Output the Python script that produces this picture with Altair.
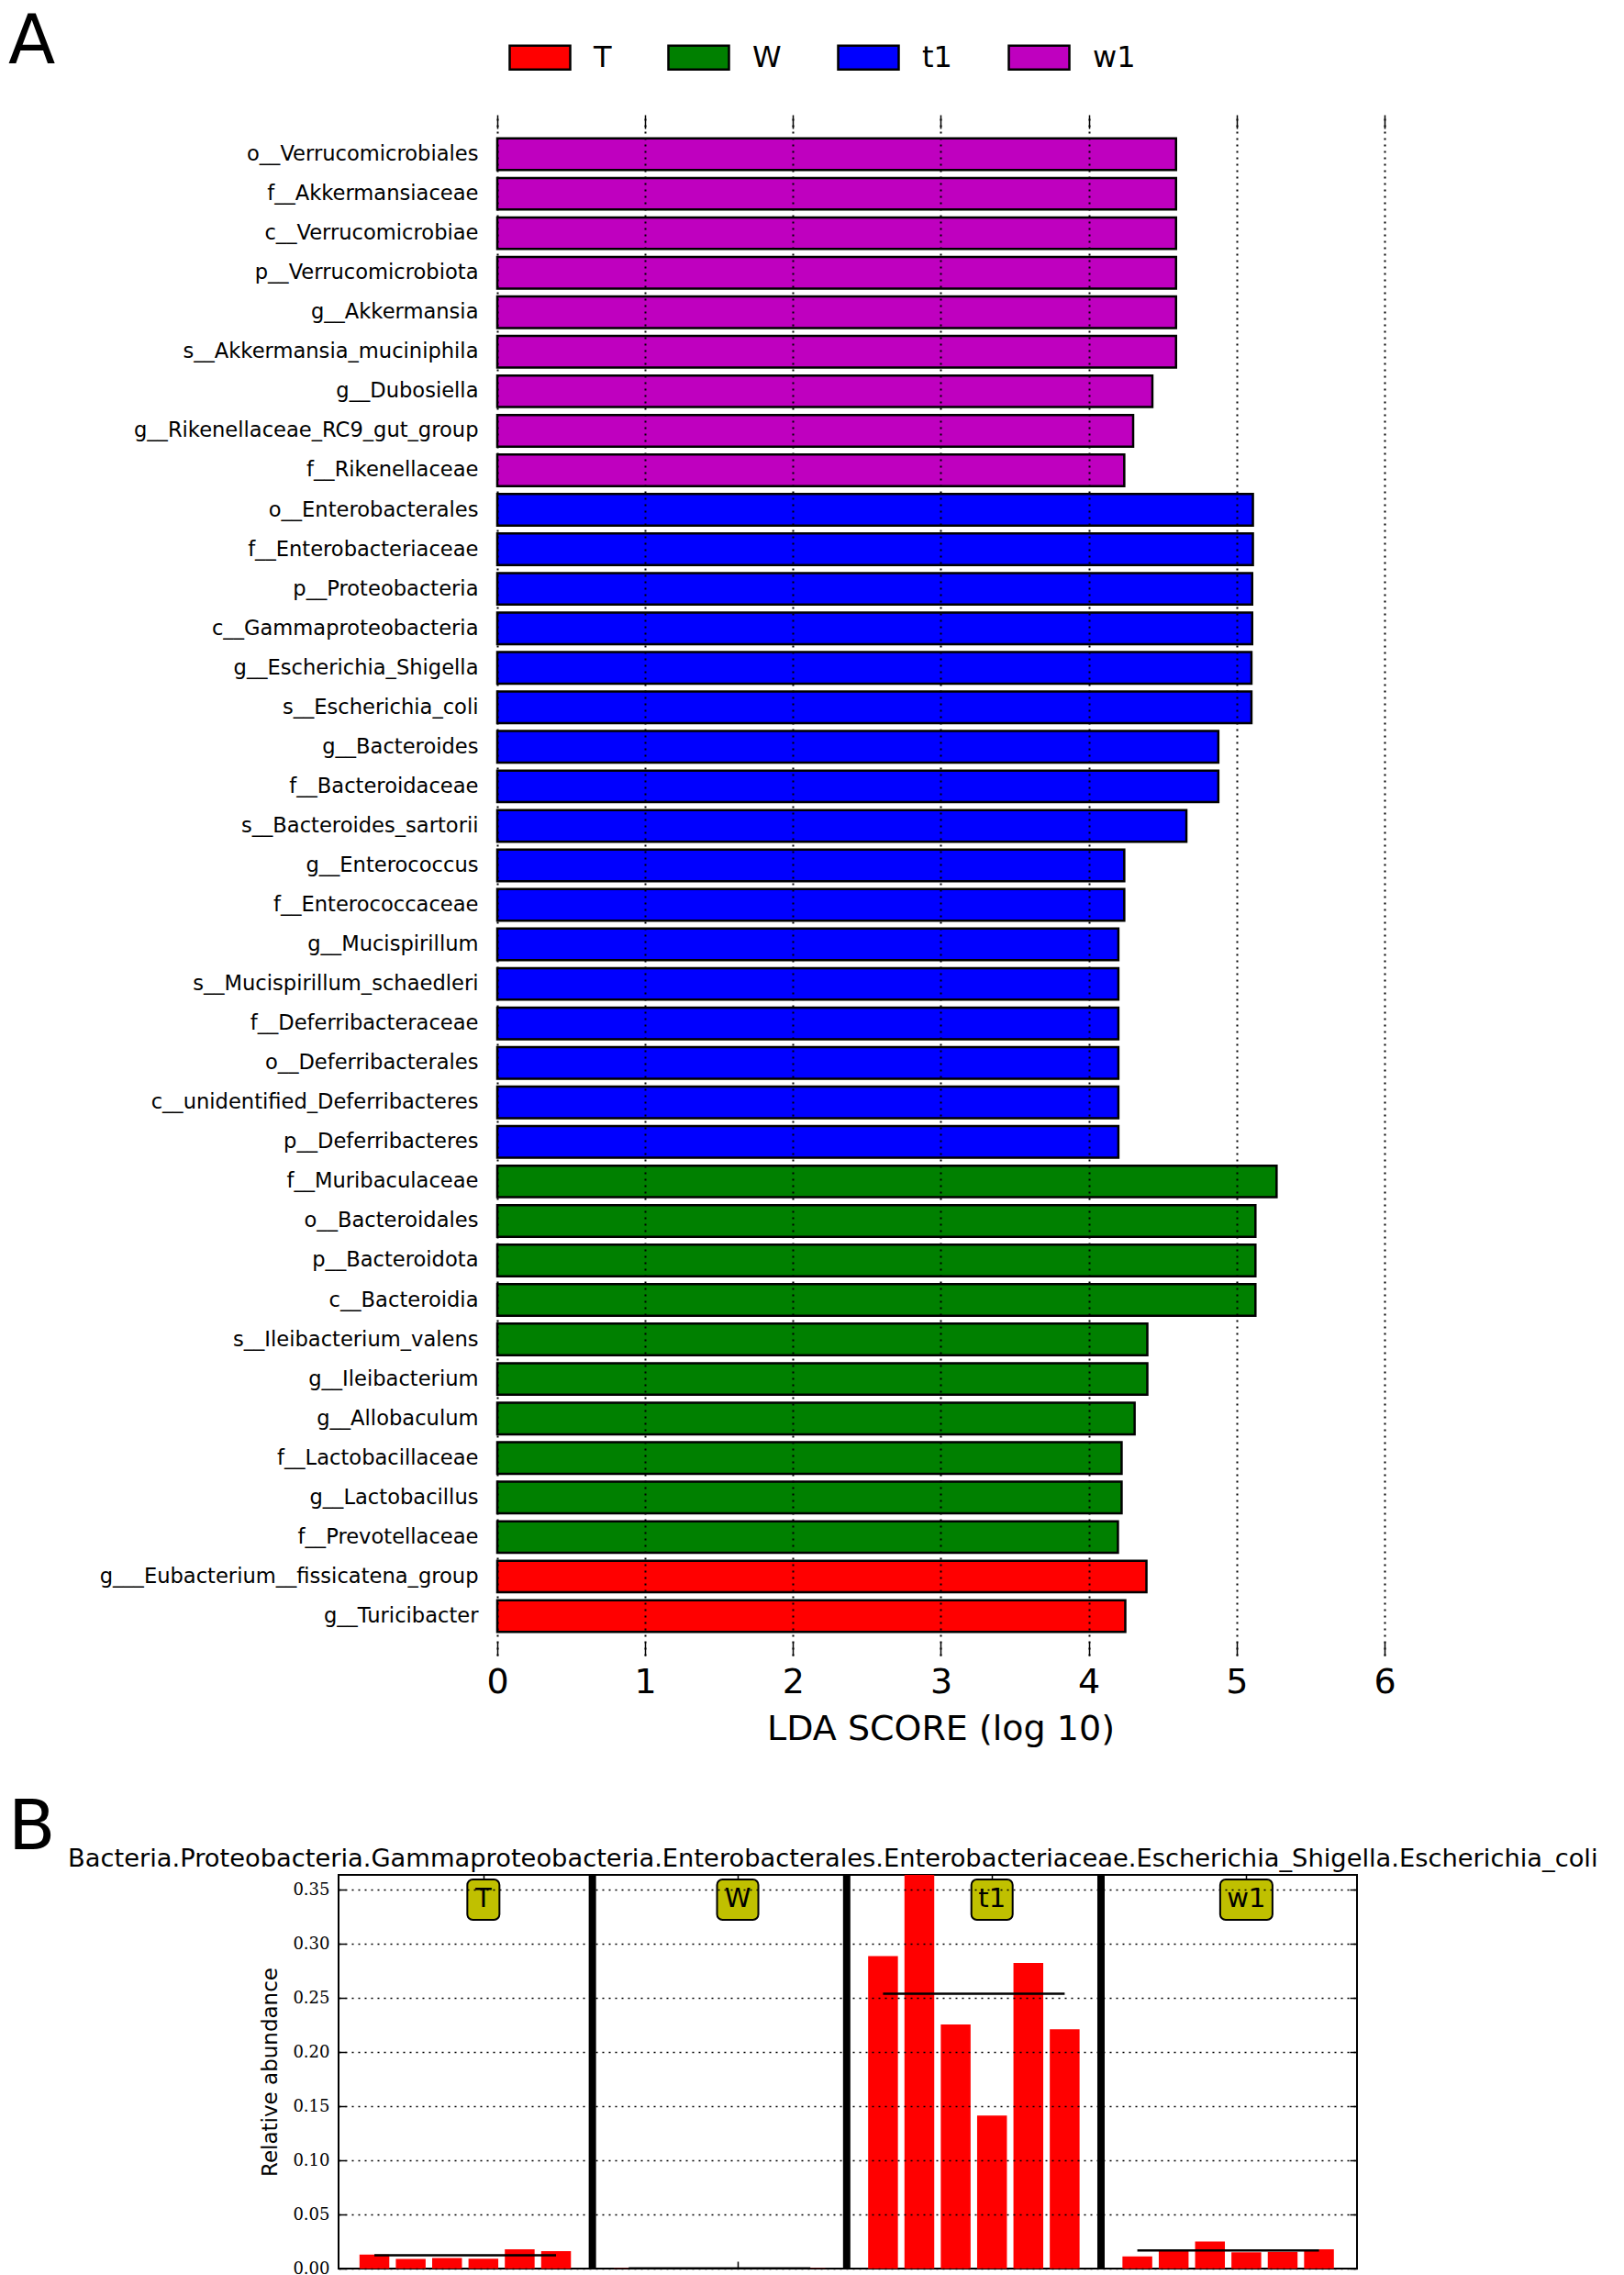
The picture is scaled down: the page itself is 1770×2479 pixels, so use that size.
import altair as alt
import pandas as pd

# ---------------- Panel A data (LEfSe LDA scores) ----------------
a_names = [
    "o__Verrucomicrobiales", "f__Akkermansiaceae", "c__Verrucomicrobiae",
    "p__Verrucomicrobiota", "g__Akkermansia", "s__Akkermansia_muciniphila",
    "g__Dubosiella", "g__Rikenellaceae_RC9_gut_group", "f__Rikenellaceae",
    "o__Enterobacterales", "f__Enterobacteriaceae", "p__Proteobacteria",
    "c__Gammaproteobacteria", "g__Escherichia_Shigella", "s__Escherichia_coli",
    "g__Bacteroides", "f__Bacteroidaceae", "s__Bacteroides_sartorii",
    "g__Enterococcus", "f__Enterococcaceae", "g__Mucispirillum",
    "s__Mucispirillum_schaedleri", "f__Deferribacteraceae", "o__Deferribacterales",
    "c__unidentified_Deferribacteres", "p__Deferribacteres",
    "f__Muribaculaceae", "o__Bacteroidales", "p__Bacteroidota", "c__Bacteroidia",
    "s__Ileibacterium_valens", "g__Ileibacterium", "g__Allobaculum",
    "f__Lactobacillaceae", "g__Lactobacillus", "f__Prevotellaceae",
    "g___Eubacterium__fissicatena_group", "g__Turicibacter",
]
a_classes_of_rows = ["w1"] * 9 + ["t1"] * 17 + ["W"] * 10 + ["T"] * 2
a_lda = [
    4.59, 4.59, 4.59, 4.59, 4.59, 4.59, 4.43, 4.30, 4.24,
    5.11, 5.11, 5.105, 5.105, 5.10, 5.10, 4.876, 4.876, 4.66, 4.24, 4.24,
    4.20, 4.20, 4.20, 4.20, 4.20, 4.20,
    5.27, 5.127, 5.127, 5.127, 4.396, 4.396, 4.31, 4.222, 4.222, 4.197,
    4.39, 4.247,
]
classes = ["T", "W", "t1", "w1"]
class_colors = ["#ff0000", "#008000", "#0000ff", "#bf00bf"]
lda_ticks = [0, 1, 2, 3, 4, 5, 6]

# ---------------- Panel B data (relative abundance per sample) ----------------
b_groups = ["T", "W", "t1", "w1"]
b_T = [0.0129, 0.0089, 0.0097, 0.0091, 0.0177, 0.0160]
b_W = [0.0003, 0.0002, 0.0002, 0.0002, 0.0002, 0.0002]
b_t1 = [0.2886, 0.364, 0.2254, 0.1414, 0.2823, 0.2209]
b_w1 = [0.0112, 0.0160, 0.0251, 0.0150, 0.0155, 0.0178]
b_yticks = [0.0, 0.05, 0.10, 0.15, 0.20, 0.25, 0.30, 0.35]
b_title = ("Bacteria.Proteobacteria.Gammaproteobacteria.Enterobacterales."
           "Enterobacteriaceae.Escherichia_Shigella.Escherichia_coli")

FONT = "DejaVu Sans"

# ================= Panel A =================
# Both panels share the same left plot edge; panel A's LDA axis starts further
# right, so its scale domain begins below zero (no ticks there).
dfa = pd.DataFrame({"name": a_names, "cls": a_classes_of_rows, "lda": a_lda})
xa = alt.Scale(domain=[-1.0734, 6], nice=False, zero=False)
ya = alt.Scale(paddingInner=0.2, paddingOuter=0.6)

bars_a = alt.Chart(dfa).mark_bar(stroke="black", strokeWidth=2.5).encode(
    x=alt.X("lda:Q", scale=xa, axis=alt.Axis(
        orient="bottom", values=lda_ticks, format="d", tickSize=15, offset=-15,
        tickColor="black", tickWidth=1.5, domain=False, labelFlush=False,
        grid=True, gridDash=[2, 5], gridColor="black", gridWidth=2, gridOpacity=1,
        labelFontSize=38, labelPadding=10, labelColor="black", labelFont=FONT,
        title="LDA SCORE (log 10)", titleFontSize=38, titleFontWeight="normal",
        titleFont=FONT, titleColor="black", titlePadding=13, titleX=656,
        zindex=1)),
    x2=alt.datum(0),
    y=alt.Y("name:N", sort=a_names, scale=ya, axis=alt.Axis(
        title=None, ticks=False, tickSize=0, domain=False, offset=-173,
        labelFontSize=22.6, labelPadding=21, labelLimit=0, labelColor="black",
        labelFont=FONT)),
    color=alt.Color("cls:N", scale=alt.Scale(domain=classes, range=class_colors),
                    legend=alt.Legend(
                        title=None, orient="none", direction="horizontal",
                        legendX=185, legendY=-97, padding=0,
                        symbolType="M-1,-0.394H1V0.394H-1Z", symbolSize=4356,
                        symbolStrokeColor="black", symbolStrokeWidth=2.5,
                        symbolOpacity=1, labelFontSize=32, labelFont=FONT,
                        labelColor="black", labelOffset=24, columnPadding=56)),
)

top_a = alt.Chart(dfa).mark_point(opacity=0).encode(
    x=alt.X("lda:Q", scale=xa, axis=alt.Axis(
        orient="top", values=lda_ticks, labels=False, tickSize=15, offset=-15,
        domain=False, grid=False, title=None, tickColor="black", tickWidth=1.5)),
)

letter_a = alt.Chart(pd.DataFrame({"t": ["A"]})).mark_text(
    align="left", baseline="alphabetic", fontSize=75, font=FONT, color="black"
).encode(text="t:N", x=alt.value(-360), y=alt.value(-56))

panel_a = alt.layer(bars_a, top_a, letter_a).resolve_axis(
    x="independent").properties(width=1140, height=1679)

# ================= Panel B =================
rows = []
for gi, (g, vals) in enumerate(zip(b_groups, [b_T, b_W, b_t1, b_w1])):
    for si, v in enumerate(vals):
        rows.append({"g": g, "gi": gi, "si": si, "v": v})
dfb = pd.DataFrame(rows)
dfg = pd.DataFrame({"g": b_groups, "gi": list(range(len(b_groups)))})
group_ticks = [gi * 7 + 3 for gi in range(len(b_groups))]

xb = alt.Scale(domain=[-0.86, 26.92], nice=False, zero=False)
yb = alt.Scale(domain=[0, 0.3636], nice=False, zero=False)
slot = "datum.gi * 7 + datum.si"

bars_b = alt.Chart(dfb).transform_calculate(
    pos=slot, x1="datum.pos - 0.41", x2="datum.pos + 0.41"
).mark_rect(color="#ff0000", clip=True).encode(
    x=alt.X("x1:Q", scale=xb, axis=alt.Axis(
        orient="bottom", values=group_ticks, labels=False, tickSize=8, offset=-8,
        domain=False, grid=False, title=None, tickColor="black", tickWidth=1.5)),
    x2="x2:Q",
    y=alt.Y("v:Q", scale=yb, axis=alt.Axis(
        orient="left", values=b_yticks, format=".2f", offset=-8, tickSize=8,
        tickColor="black", tickWidth=1.5, domain=False,
        grid=True, gridDash=[2, 5], gridColor="black", gridWidth=1.5, gridOpacity=1,
        zindex=1, labelFont="DejaVu Serif", labelFontSize=18, labelPadding=10,
        labelColor="black", title="Relative abundance", titleFontSize=23,
        titleFontWeight="normal", titleFont=FONT, titleColor="black",
        titlePadding=12)),
    y2=alt.datum(0),
)

axes_b = alt.Chart(dfb).transform_calculate(pos=slot).mark_point(opacity=0).encode(
    x=alt.X("pos:Q", scale=xb, axis=alt.Axis(
        orient="top", values=group_ticks, labels=False, tickSize=8, offset=-8,
        domain=False, grid=False, title=None, tickColor="black", tickWidth=1.5)),
    y=alt.Y("v:Q", scale=yb, axis=alt.Axis(
        orient="right", values=b_yticks, labels=False, tickSize=8, offset=-8,
        domain=False, grid=False, title=None, tickColor="black", tickWidth=1.5)),
)

mean_b = alt.Chart(dfb).transform_calculate(pos=slot).transform_aggregate(
    m="mean(v)", lo="min(pos)", hi="max(pos)", groupby=["g"]
).mark_rule(color="black", strokeWidth=2.5).encode(
    x=alt.X("lo:Q", scale=xb, axis=None), x2="hi:Q",
    y=alt.Y("m:Q", scale=yb, axis=None),
)

sep_b = alt.Chart(dfg).transform_filter("datum.gi > 0").transform_calculate(
    sep="datum.gi * 7 - 1"
).mark_rule(color="black", strokeWidth=8).encode(
    x=alt.X("sep:Q", scale=xb, axis=None)
)

box_b = alt.Chart(dfg).transform_calculate(
    c="datum.gi * 7 + 3",
    bw="datum.g == 'T' ? 35 : (datum.g == 'w1' ? 57 : 45)",
).mark_bar(orient="vertical", fill="#c0c000", stroke="black", strokeWidth=2,
           cornerRadius=6).encode(
    x=alt.X("c:Q", scale=xb, axis=None),
    y=alt.value(5), y2=alt.value(49),
    size=alt.Size("bw:Q", scale=None, legend=None),
)

boxtext_b = alt.Chart(dfg).transform_calculate(c="datum.gi * 7 + 3").mark_text(
    fontSize=29, font=FONT, baseline="alphabetic", color="black"
).encode(x=alt.X("c:Q", scale=xb, axis=None), y=alt.value(35), text="g:N")

letter_b = alt.Chart(pd.DataFrame({"t": ["B"]})).mark_text(
    align="left", baseline="alphabetic", fontSize=75, font=FONT, color="black"
).encode(text="t:N", x=alt.value(-360), y=alt.value(-28))

title_b = alt.Chart(pd.DataFrame({"t": [b_title]})).mark_text(
    align="left", baseline="alphabetic", fontSize=27.3, font=FONT, color="black"
).encode(text="t:N", x=alt.value(-295), y=alt.value(-9))

panel_b = alt.layer(
    bars_b, axes_b, mean_b, sep_b, box_b, boxtext_b, letter_b, title_b
).resolve_axis(x="independent", y="independent").properties(
    width=1110, height=429,
    view=alt.ViewBackground(stroke="black", strokeWidth=2),
)

chart = alt.vconcat(panel_a, panel_b, spacing=50).properties(
    padding=0
).configure(font=FONT, view=alt.ViewConfig(stroke="transparent"))

chart.save("out.html", embed_options={"renderer": "svg", "actions": False})
